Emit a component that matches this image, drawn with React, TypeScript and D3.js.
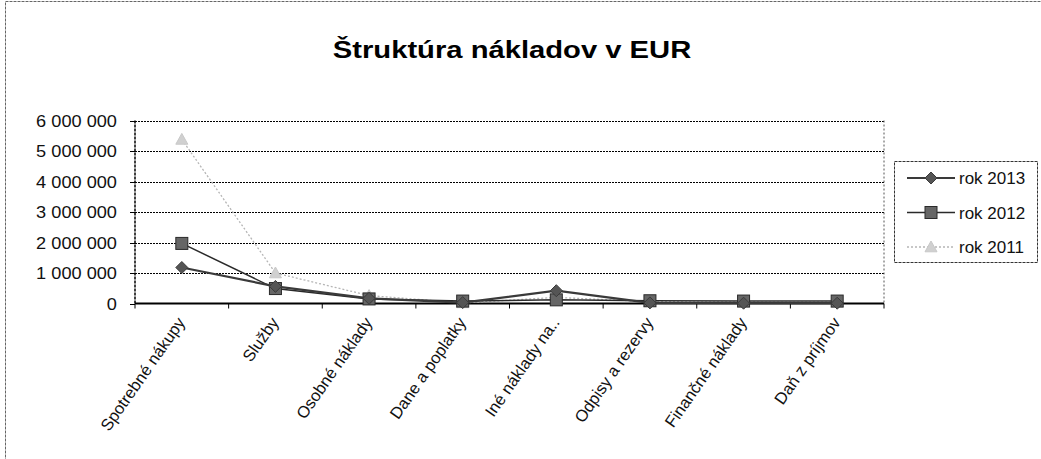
import React from "react";
import * as d3 from "d3";

const categories = [
  "Spotrebné nákupy",
  "Služby",
  "Osobné náklady",
  "Dane a poplatky",
  "Iné náklady na..",
  "Odpisy a rezervy",
  "Finančné náklady",
  "Daň z príjmov",
];
const rok2013 = [1180000, 560000, 170000, 30000, 420000, 20000, 10000, 10000];
const rok2012 = [1970000, 490000, 150000, 80000, 120000, 90000, 80000, 80000];
const rok2011 = [5380000, 1000000, 260000, 20000, 200000, 60000, 50000, 40000];
const yTicks = [0, 1000000, 2000000, 3000000, 4000000, 5000000, 6000000];
const seriesNames = ["rok 2013", "rok 2012", "rok 2011"];

const W = 1041;
const H = 459;
const left = 135;
const right = 884;
const top = 120.5;
const bottom = 303.5;

const fmt = (v: number) => d3.format(",")(v).replace(/,/g, " ");

export default function App() {
  const x = d3.scaleBand<string>().domain(categories).range([left, right]);
  const y = d3.scaleLinear().domain([0, 6000000]).range([bottom, top]);
  const cx = (c: string) => (x(c) as number) + x.bandwidth() / 2;
  const series = [
    { name: seriesNames[0], values: rok2013, stroke: "#3a3a3a", width: 2.2, dash: "", marker: "diamond", fill: "#555" },
    { name: seriesNames[1], values: rok2012, stroke: "#2a2a2a", width: 1.5, dash: "", marker: "square", fill: "#666" },
    { name: seriesNames[2], values: rok2011, stroke: "#b5b5b5", width: 1.3, dash: "2 2", marker: "triangle", fill: "#d0d0d0" },
  ];
  const line = d3
    .line<number>()
    .x((_, i) => cx(categories[i]))
    .y((d) => y(d));

  const marker = (type: string, px: number, py: number, fill: string, stroke: string, key: string) => {
    if (type === "diamond") {
      const s = 6;
      return (
        <path key={key} d={`M${px},${py - s}L${px + s},${py}L${px},${py + s}L${px - s},${py}Z`} fill={fill} stroke={stroke} strokeWidth={1} />
      );
    }
    if (type === "square") {
      const s = 6;
      return <rect key={key} x={px - s} y={py - s} width={2 * s} height={2 * s} fill={fill} stroke={stroke} strokeWidth={1} />;
    }
    const s = 6;
    return (
      <path key={key} d={`M${px},${py - s}L${px + s},${py + s * 0.8}L${px - s},${py + s * 0.8}Z`} fill={fill} stroke="#c8c8c8" strokeWidth={1} />
    );
  };

  const boundaries = d3.range(categories.length + 1).map((i) => left + i * x.bandwidth());

  return (
    <svg width={W} height={H} style={{ position: "absolute", left: 0, top: 0, background: "#fff" }} fontFamily="Arial, 'Liberation Sans', sans-serif">
      <rect x={5.5} y={1.5} width={W + 10} height={H + 10} fill="none" stroke="#666" strokeWidth={1} strokeDasharray="3 1" />
      <text transform={`translate(512,58) scale(1.27,1)`} textAnchor="middle" fontSize={23} fontWeight="bold" fill="#000">
        Štruktúra nákladov v EUR
      </text>

      {/* gridlines */}
      {yTicks.map((t) => (
        <g key={t}>
          {t > 0 && (
            <line x1={left} x2={right} y1={Math.round(y(t)) + 0.5} y2={Math.round(y(t)) + 0.5} stroke="#000" strokeWidth={1} strokeDasharray="2 1" />
          )}
          <line x1={left - 5} x2={left} y1={Math.round(y(t)) + 0.5} y2={Math.round(y(t)) + 0.5} stroke="#000" strokeWidth={1} />
          <text x={117} y={y(t)} dy="0.36em" textAnchor="end" fontSize={17} fill="#111" transform={`translate(${117 - 117 * 1.07},0) scale(1.07,1)`}>
            {fmt(t)}
          </text>
        </g>
      ))}
      {/* plot border */}
      <line x1={left} x2={left} y1={top} y2={bottom} stroke="#000" strokeWidth={1.5} strokeDasharray="3 1" />
      <line x1={right} x2={right} y1={top} y2={bottom} stroke="#555" strokeWidth={1} strokeDasharray="2 2" />
      <line x1={left} x2={right} y1={bottom} y2={bottom} stroke="#000" strokeWidth={2} />
      {boundaries.map((b, i) => (
        <line key={i} x1={b} x2={b} y1={bottom} y2={bottom + 5} stroke="#000" strokeWidth={1} />
      ))}

      {/* series */}
      {series
        .slice()
        .reverse()
        .map((s) => (
          <g key={s.name}>
            <path d={line(s.values) || ""} fill="none" stroke={s.stroke} strokeWidth={s.width} strokeDasharray={s.dash} />
            {s.values.map((v, i) => marker(s.marker, cx(categories[i]), y(v), s.fill, s.stroke, s.name + i))}
          </g>
        ))}

      {/* category labels */}
      {categories.map((c) => (
        <text
          key={c}
          transform={`translate(${cx(c) + 4},${bottom + 19}) rotate(-55)`}
          textAnchor="end"
          fontSize={16.5}
          fill="#111"
        >
          {c}
        </text>
      ))}

      {/* legend */}
      <rect x={894.5} y={161.5} width={143} height={101} fill="#fff" stroke="#333" strokeWidth={1} strokeDasharray="3 1" />
      {series.map((s, i) => {
        const ly = 178 + i * 34.5;
        return (
          <g key={s.name}>
            <line x1={907} x2={955} y1={ly} y2={ly} stroke={s.stroke} strokeWidth={s.width} strokeDasharray={s.dash} />
            {marker(s.marker, 931, ly, s.fill, s.stroke, "lg" + i)}
            <text x={959} y={ly} dy="0.36em" fontSize={17} fill="#111">
              {s.name}
            </text>
          </g>
        );
      })}
    </svg>
  );
}
